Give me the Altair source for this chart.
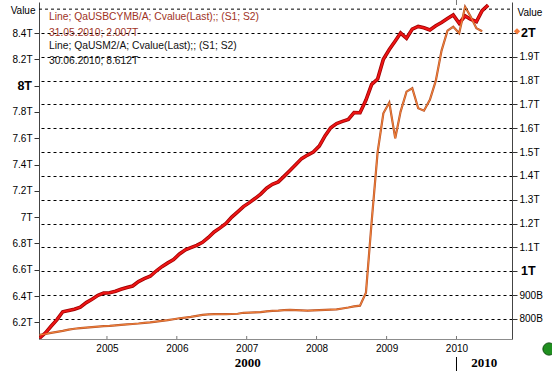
import altair as alt
import pandas as pd

# ---------------- data ----------------
# US M2 money stock, trillions, monthly Jan 2004 .. Jun 2010 (left axis)
m2_values = [
    6.08, 6.12, 6.17, 6.22, 6.28, 6.29, 6.30, 6.315, 6.35, 6.375, 6.405, 6.422,
    6.425, 6.436, 6.451, 6.464, 6.476, 6.51, 6.532, 6.55, 6.59, 6.623, 6.652, 6.677,
    6.72, 6.752, 6.768, 6.785, 6.808, 6.845, 6.887, 6.918, 6.952, 7.0, 7.04, 7.08,
    7.11, 7.143, 7.175, 7.22, 7.25, 7.268, 7.31, 7.355, 7.40, 7.445, 7.472, 7.495,
    7.54, 7.62, 7.68, 7.712, 7.728, 7.743, 7.795, 7.794, 7.89, 8.01, 8.05, 8.20,
    8.275, 8.34, 8.40, 8.36, 8.43, 8.45, 8.44, 8.423, 8.455, 8.48, 8.51, 8.537,
    8.474, 8.53, 8.505, 8.486, 8.57, 8.612,
]
# US monetary base, trillions, monthly Jan 2004 .. May 2010 (right axis)
base_values = [
    0.733, 0.737, 0.742, 0.746, 0.750, 0.755, 0.759, 0.762, 0.764, 0.766, 0.768, 0.770,
    0.771, 0.773, 0.775, 0.777, 0.779, 0.781, 0.784, 0.786, 0.789, 0.792, 0.795, 0.799,
    0.803, 0.806, 0.809, 0.813, 0.817, 0.819, 0.820, 0.820, 0.820, 0.821, 0.822, 0.826,
    0.827, 0.828, 0.829, 0.832, 0.834, 0.835, 0.837, 0.838, 0.837, 0.836, 0.835, 0.836,
    0.837, 0.838, 0.839, 0.840, 0.844, 0.848, 0.853, 0.856, 0.91, 1.21, 1.50, 1.663,
    1.708, 1.558, 1.67, 1.754, 1.768, 1.684, 1.674, 1.72, 1.80, 1.926, 2.01, 2.026,
    1.999, 2.11, 2.07, 2.02, 2.007,
]
year_ticks = [2005, 2006, 2007, 2008, 2009, 2010]
left_ticks = [6.2, 6.4, 6.6, 6.8, 7.0, 7.2, 7.4, 7.6, 7.8, 8.0, 8.2, 8.4]
right_ticks = [0.8, 0.9, 1.0, 1.1, 1.2, 1.3, 1.4, 1.5, 1.6, 1.7, 1.8, 1.9, 2.0]
right_top_grid = [2.1]
left_bold = [8.0]
left_bold_text = ["8T"]
right_bold = [2.0, 1.0]
right_bold_text = ["2T", "1T"]
legend_lines = [
    "Line; QaUSBCYMB/A; Cvalue(Last);; (S1; S2)",
    "31.05.2010; 2.007T",
    "Line; QaUSM2/A; Cvalue(Last);; (S1; S2)",
    "30.06.2010; 8.612T",
]
decade_labels = ["2000", "2010"]

# ---------------- frames ----------------
dates = pd.date_range("2004-01-01", periods=len(m2_values), freq="MS") + pd.Timedelta(days=14)
m2 = pd.DataFrame({"date": dates, "v": m2_values})
base = pd.DataFrame({"date": dates[: len(base_values)], "v": base_values})

x_start = pd.Timestamp("2004-01-12")
x_end = pd.Timestamp("2010-10-18")
dec_split = pd.Timestamp("2010-01-01")
decades = pd.DataFrame({
    "label": decade_labels,
    "date": [x_start + (dec_split - x_start) / 2, dec_split + (x_end - dec_split) / 2],
})
years = pd.DataFrame({"date": [pd.Timestamp(f"{y}-01-01") for y in year_ticks]})
split = pd.DataFrame({"date": [dec_split]})

W, H = 473, 337
FONT = "Liberation Sans"

def dt(ts):
    return alt.DateTime(year=ts.year, month=ts.month, date=ts.day)

xscale = alt.Scale(domain=[dt(x_start), dt(x_end)])
x_axis = alt.Axis(
    values=[alt.DateTime(year=y, month=1, date=1) for y in year_ticks],
    format="%Y", title=None, grid=False, ticks=False,
    labelFont=FONT, labelFontSize=10, labelColor="#000", labelPadding=4,
    domainColor="#8c8c8c", domainWidth=1,
)
# the same x axis definition everywhere, so the shared axis merges cleanly
X = alt.X("date:T", scale=xscale, axis=x_axis)

left_scale = alt.Scale(domain=[6.073, 8.636], nice=False, zero=False)
right_scale = alt.Scale(domain=[0.716, 2.130], nice=False, zero=False)

left_axis = alt.Axis(
    orient="left", values=left_ticks, grid=False,
    labelExpr="datum.value == 8 ? '' : format(datum.value, '.1~f') + 'T'",
    labelFont=FONT, labelFontSize=10, labelColor="#000", labelPadding=2,
    tickSize=5, tickColor="#333", domainColor="#444", domainWidth=1,
    title="Value", titleAngle=0, titleX=-4, titleY=8, titleAlign="right",
    titleBaseline="middle", titleFont=FONT, titleFontSize=10,
    titleFontWeight="normal", titleColor="#000",
)
right_axis = alt.Axis(
    orient="right", values=right_ticks, grid=True,
    gridColor="#000", gridDash=[3, 3], gridWidth=1, gridOpacity=1,
    labelExpr="datum.value == 2 || datum.value == 1 ? '' : (datum.value >= 1 ? format(datum.value, '.1~f') + 'T' : format(datum.value * 1000, '.0f') + 'B')",
    labelFont=FONT, labelFontSize=10, labelColor="#000", labelPadding=2,
    tickSize=5, tickColor="#333", domainColor="#444", domainWidth=1,
    title="Value", titleAngle=0, titleX=5, titleY=10, titleAlign="left",
    titleBaseline="middle", titleFont=FONT, titleFontSize=10,
    titleFontWeight="normal", titleColor="#000",
)

# Each y-field layer gets its own (independent) scale; all left ones share the same
# explicit domain, all right ones share theirs, so they line up exactly.
red_under = alt.Chart(m2).mark_line(color="#a00000", strokeWidth=3.6, clip=True).encode(
    x=X, y=alt.Y("v:Q", scale=left_scale, axis=left_axis))
or_under = alt.Chart(base).mark_line(color="#b8542a", strokeWidth=2.2, clip=True).encode(
    x=X, y=alt.Y("v:Q", scale=right_scale, axis=right_axis))
red_top = alt.Chart(m2).mark_line(color="#ee1515", strokeWidth=2, clip=True).encode(
    x=X, y=alt.Y("v:Q", scale=left_scale, axis=None))
or_top = alt.Chart(base).mark_line(color="#f5843a", strokeWidth=1, clip=True).encode(
    x=X, y=alt.Y("v:Q", scale=right_scale, axis=None))
top_grid = alt.Chart(pd.DataFrame({"v": right_top_grid})).mark_rule(
    color="#000", strokeDash=[3, 3], strokeWidth=1).encode(
    y=alt.Y("v:Q", scale=right_scale, axis=None), x=alt.value(0), x2=alt.value(W))
left_bold_lbl = alt.Chart(pd.DataFrame({"v": left_bold, "t": left_bold_text})).mark_text(
    font=FONT, fontSize=12.5, fontWeight="bold", align="right", baseline="middle", color="#000").encode(
    x=alt.value(-7), y=alt.Y("v:Q", scale=left_scale, axis=None), text="t:N")
diamond = alt.Chart(base.tail(1)).mark_point(
    shape="diamond", filled=True, size=40, color="#f47a3a", opacity=1).encode(
    x=alt.value(W + 5), y=alt.Y("v:Q", scale=right_scale, axis=None))
right_bold_lbl = alt.Chart(pd.DataFrame({"v": right_bold, "t": right_bold_text})).mark_text(
    font=FONT, fontSize=12.5, fontWeight="bold", align="left", baseline="middle", color="#000").encode(
    x=alt.value(W + 9), y=alt.Y("v:Q", scale=right_scale, axis=None), text="t:N")

year_ticks_marks = alt.Chart(years).mark_rule(color="#777", strokeWidth=1).encode(
    x=X, y=alt.value(H - 3), y2=alt.value(H))
top_tick = alt.Chart(split).mark_rule(color="#777", strokeWidth=1).encode(
    x=X, y=alt.value(-2), y2=alt.value(3))
sep = alt.Chart(split).mark_rule(color="#000", strokeWidth=1).encode(
    x=X, y=alt.value(355), y2=alt.value(369))
dec_text = alt.Chart(decades).mark_text(
    font="Liberation Serif", fontWeight="bold", fontSize=13, baseline="middle", color="#000").encode(
    x=X, y=alt.value(361), text="label:N")

legend_colors = ["#a0321e", "#a0321e", "#111", "#111"]
legend_y = [15, 31, 44, 59]
legend_layers = [
    alt.Chart(pd.DataFrame({"t": [txt]})).mark_text(
        font=FONT, fontSize=10.3, align="left", baseline="middle", color=c).encode(
        text="t:N", x=alt.value(10), y=alt.value(yy))
    for txt, c, yy in zip(legend_lines, legend_colors, legend_y)
]
green = alt.Chart(pd.DataFrame({"a": [0]})).mark_circle(
    size=150, color="#1f8f1f", stroke="#0b4d0b", strokeWidth=1, opacity=1).encode(
    x=alt.value(510), y=alt.value(347))

chart = alt.layer(
    red_under, or_under, top_grid, red_top, or_top, diamond,
    left_bold_lbl, right_bold_lbl,
    year_ticks_marks, top_tick, sep, dec_text, green, *legend_layers,
).resolve_scale(y="independent").properties(
    width=W, height=H,
    padding={"left": 39, "top": 2, "right": 40, "bottom": 38},
    autosize=alt.AutoSizeParams(type="none"),
    background="white",
).configure_view(stroke=None)

chart.save("out.html", embed_options={"renderer": "svg", "actions": False})
